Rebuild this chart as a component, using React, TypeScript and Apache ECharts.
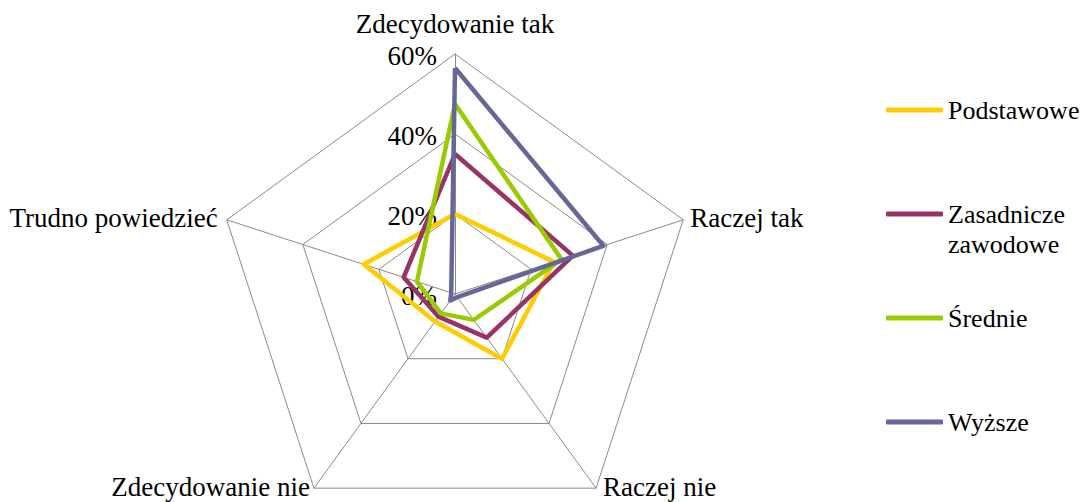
import React, { useEffect, useRef } from "react";
import * as echarts from "echarts";

const categories = ["Zdecydowanie tak", "Raczej tak", "Raczej nie", "Zdecydowanie nie", "Trudno powiedzieć"];
const seriesNames = ["Podstawowe", "Zasadnicze\nzawodowe", "Średnie", "Wyższe"];
const podstawowe = [20, 26, 20, 8.5, 24];
const zasadnicze = [35, 31, 13.5, 7, 13.5];
const srednie = [47.5, 28, 8, 6, 10];
const wyzsze = [56.5, 39, 1, 2, 1];
const tickValues = [0, 20, 40, 60];
const tickLabels = ["0%", "20%", "40%", "60%"];
const colors = ["#FFCC00", "#993366", "#99CC00", "#666699"];

const FONT = "'Times New Roman', 'Liberation Serif', serif";
const FS = 27;

export default function App() {
  const ref = useRef<HTMLDivElement>(null);
  useEffect(() => {
    document.body.style.margin = "0";
    if (!ref.current) return;
    const chart = echarts.init(ref.current, null, { renderer: "svg" });
    const cx = 455, cy = 294, R = 240, maxV = 60;
    // ECharts places indicators counter-clockwise; reorder so they appear clockwise
    const order = [0, 4, 3, 2, 1];
    const reorder = (arr: any[]) => order.map((i) => arr[i]);
    const allData = [podstawowe, zasadnicze, srednie, wyzsze];

    const vertex = (i: number) => {
      const ang = (90 - i * 72) * Math.PI / 180;
      return [cx + R * Math.cos(ang), cy - R * Math.sin(ang)];
    };
    const nameOffsets = [
      { dx: 0, dy: -30, align: "center" },
      { dx: 7, dy: -2, align: "left" },
      { dx: 7, dy: -1, align: "left" },
      { dx: -4, dy: -1, align: "right" },
      { dx: -9, dy: -2, align: "right" },
    ];
    const graphics: any[] = [];
    categories.forEach((c, i) => {
      const [vx, vy] = vertex(i);
      const o = nameOffsets[i];
      graphics.push({
        type: "text", x: vx + o.dx, y: vy + o.dy, silent: true,
        style: { text: c, fontFamily: FONT, fontSize: FS, fill: "#000", textAlign: o.align, textVerticalAlign: "middle" },
      });
    });
    tickValues.forEach((v, i) => {
      graphics.push({
        type: "text", x: cx - 18, y: cy - R * v / maxV + 2, silent: true,
        style: { text: tickLabels[i], fontFamily: FONT, fontSize: FS, fill: "#000", textAlign: "right", textVerticalAlign: "middle" },
      });
    });

    const legendTops = [95, 169, 303, 407];
    const legends = seriesNames.map((n, i) => ({
      show: true,
      orient: "vertical",
      left: 886,
      top: legendTops[i],
      padding: 0,
      data: [n],
      icon: "roundRect",
      itemWidth: 57,
      itemHeight: 5,
      itemGap: 0,
      selectedMode: false,
      formatter: (name: string) => (name.indexOf("\n") >= 0 ? "\n" + name : name),
      textStyle: {
        fontFamily: FONT, fontSize: 26, color: "#000", lineHeight: 30,
      },
    }));

    chart.setOption({
      animation: false,
      color: colors,
      textStyle: { fontFamily: FONT },
      legend: legends,
      radar: {
        center: [cx, cy],
        radius: R,
        shape: "polygon",
        splitNumber: 3,
        startAngle: 90,
        indicator: reorder(categories).map((c) => ({ name: c, min: 0, max: maxV })),
        axisName: { show: false },
        axisLabel: { show: false },
        splitArea: { show: false },
        splitLine: { lineStyle: { color: "#8a8a8a", width: 1 } },
        axisLine: { lineStyle: { color: "#8a8a8a", width: 1 } },
        axisTick: { show: false },
      },
      graphic: graphics,
      series: [
        {
          type: "radar",
          symbol: "none",
          lineStyle: { width: 4.5 },
          data: seriesNames.map((n, i) => ({
            name: n,
            value: reorder(allData[i]),
            lineStyle: { color: colors[i], width: 4.5 },
            itemStyle: { color: colors[i] },
          })),
        },
      ],
    });
    return () => chart.dispose();
  }, []);
  return <div ref={ref} style={{ width: 1081, height: 502 }} />;
}
